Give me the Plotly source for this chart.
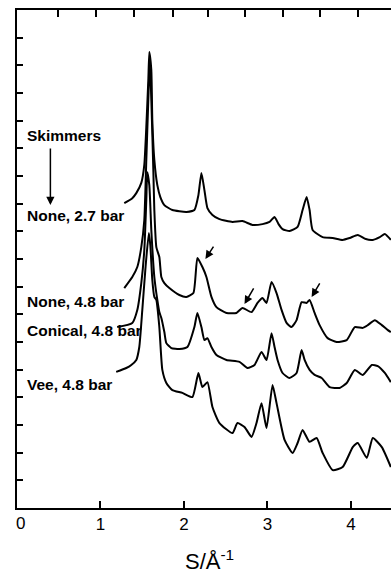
import plotly.graph_objects as go

# ---- data (s in 1/Angstrom, intensity in tick units, curves offset) ----
s_none27 = [1.285,1.381,1.429,1.489,1.525,1.549,1.573,1.585,1.609,1.621,1.645,1.681,1.717,1.765,1.861,2.029,2.125,2.173,2.209,2.245,2.281,2.341,2.425,2.581,2.701,2.821,2.941,3.025,3.085,3.133,3.181,3.265,3.361,3.421,3.469,3.505,3.541,3.661,3.781,3.901,3.986,4.082,4.178,4.262,4.346,4.406,4.478]
i_none27 = [11.02,11.20,11.38,11.75,12.40,13.77,15.47,16.48,15.83,14.02,12.58,11.67,11.24,10.95,10.77,10.70,10.77,11.31,12.11,11.49,10.84,10.59,10.44,10.34,10.37,10.23,10.26,10.34,10.52,10.26,10.08,10.01,10.16,10.77,11.24,10.77,10.05,9.79,9.76,9.69,9.76,9.87,9.72,9.69,9.79,9.90,9.69]

s_none48 = [1.285,1.381,1.441,1.489,1.525,1.549,1.573,1.591,1.609,1.633,1.645,1.669,1.705,1.729,1.765,1.825,1.945,2.029,2.113,2.161,2.221,2.269,2.329,2.389,2.509,2.629,2.701,2.809,2.881,2.941,2.989,3.049,3.109,3.169,3.229,3.289,3.349,3.409,3.469,3.505,3.565,3.625,3.721,3.829,3.950,4.046,4.142,4.202,4.286,4.370,4.442,4.478]
i_none48 = [7.95,8.35,8.71,9.43,10.41,12.58,14.75,16.12,14.75,12.22,10.77,9.43,9.07,8.35,8.13,7.95,7.70,7.63,7.77,9.04,8.71,8.35,7.63,7.26,7.05,7.05,7.23,7.08,7.41,7.59,7.41,8.17,7.77,7.16,6.69,6.54,6.79,7.44,7.41,7.52,7.05,6.61,6.14,6.00,6.07,6.54,6.51,6.61,6.79,6.61,6.43,6.36]

s_conical = [1.200,1.381,1.441,1.489,1.525,1.549,1.561,1.585,1.609,1.645,1.681,1.705,1.729,1.765,1.789,1.849,1.945,2.041,2.125,2.161,2.209,2.245,2.281,2.329,2.389,2.509,2.665,2.761,2.845,2.929,2.989,3.049,3.085,3.121,3.181,3.265,3.349,3.409,3.445,3.505,3.565,3.649,3.745,3.865,3.950,4.046,4.142,4.250,4.322,4.406,4.478]
i_conical = [6.54,6.69,7.16,8.13,9.32,11.13,12.14,11.67,10.05,8.35,7.52,7.08,6.87,6.36,5.96,5.78,5.75,5.82,6.54,7.05,6.54,6.07,6.14,5.82,5.53,5.35,5.28,5.06,5.17,5.64,5.35,6.32,5.82,5.35,4.88,4.70,4.88,5.71,5.35,4.99,4.81,4.70,4.37,4.34,4.52,4.99,4.81,5.17,5.13,4.88,4.55]

s_vee = [1.188,1.309,1.369,1.429,1.465,1.501,1.537,1.579,1.597,1.621,1.645,1.669,1.705,1.741,1.789,1.861,1.981,2.101,2.173,2.221,2.281,2.341,2.425,2.581,2.641,2.725,2.809,2.869,2.929,2.989,3.061,3.109,3.205,3.301,3.361,3.421,3.505,3.589,3.661,3.781,3.901,4.022,4.082,4.190,4.262,4.370,4.478]
i_vee = [4.92,5.06,5.17,5.35,5.82,7.16,8.60,9.94,9.50,8.24,7.63,7.52,6.54,4.99,4.52,4.26,4.16,4.01,4.88,4.37,4.55,3.65,3.07,2.71,3.07,2.93,2.57,3.07,3.79,2.89,4.45,3.79,2.46,1.99,2.35,2.82,2.39,2.53,1.99,1.37,1.48,2.20,2.35,1.81,2.53,2.20,1.48]

x_tick_vals = [1, 2, 3, 4]
x_tick_text = ["1", "2", "3", "4"]
top_tick_vals = [0.491, 0.946, 1.401, 1.868, 2.287, 2.731, 3.186, 3.629, 4.084]
y_tick_vals = list(range(0, 19))

labels = ["Skimmers", "None, 2.7 bar", "None, 4.8 bar", "Conical, 4.8 bar", "Vee, 4.8 bar"]
label_x = [0.09, 0.09, 0.09, 0.09, 0.09]
label_y = [13.48, 10.59, 7.48, 6.40, 4.45]

# small arrows: (head_s, head_i, tail_s, tail_i)
arrow_heads_s = [0.40, 2.257, 2.725, 3.529]
arrow_heads_i = [10.95, 9.00, 7.37, 7.63]
arrow_tails_s = [0.40, 2.365, 2.845, 3.637]
arrow_tails_i = [13.05, 9.50, 7.99, 8.17]

FONT = "Liberation Sans, Arial, sans-serif"

fig = go.Figure()
for s, i in [(s_none27, i_none27), (s_none48, i_none48), (s_conical, i_conical), (s_vee, i_vee)]:
    fig.add_trace(go.Scatter(x=s, y=i, mode="lines",
                             line=dict(color="black", width=2, shape="spline", smoothing=0.5),
                             showlegend=False, hoverinfo="skip"))
# invisible trace for top axis
fig.add_trace(go.Scatter(x=[0], y=[0], xaxis="x2", mode="markers",
                         marker=dict(opacity=0), showlegend=False, hoverinfo="skip"))

for t, x, y in zip(labels, label_x, label_y):
    fig.add_annotation(x=x, y=y, text="<b>" + t + "</b>", showarrow=False, xanchor="left",
                       yanchor="middle", font=dict(family=FONT, size=15.5, color="black"))

for hs, hi, ts, ti in zip(arrow_heads_s, arrow_heads_i, arrow_tails_s, arrow_tails_i):
    fig.add_annotation(x=hs, y=hi, ax=ts, ay=ti, xref="x", yref="y", axref="x", ayref="y",
                       text="", showarrow=True, arrowhead=2, arrowsize=1.1, arrowwidth=1.5,
                       arrowcolor="black")

# axis title and the "0" label as annotations
fig.add_annotation(x=2.30, y=0, xref="x", yref="paper", text="S/Å<sup>-1</sup>",
                   showarrow=False, yanchor="top", yshift=-36,
                   font=dict(family=FONT, size=22, color="black"))
fig.add_annotation(x=0.04, y=0, xref="x", yref="paper", text="0", showarrow=False,
                   yanchor="top", yshift=-4,
                   font=dict(family=FONT, size=17, color="black"))

fig.update_layout(
    width=391, height=575,
    margin=dict(l=17, r=0, t=10, b=67),
    paper_bgcolor="white", plot_bgcolor="white",
    xaxis=dict(range=[0, 4.48], showgrid=False, zeroline=False, showline=True,
               linecolor="black", linewidth=1.6, ticks="inside", ticklen=7, tickwidth=1.5,
               tickcolor="black", tickvals=x_tick_vals, ticktext=x_tick_text,
               tickfont=dict(family=FONT, size=17, color="black")),
    xaxis2=dict(range=[0, 4.48], overlaying="x", side="top", showgrid=False, zeroline=False,
                showline=True, linecolor="black", linewidth=1.6, ticks="inside", ticklen=7,
                tickwidth=1.5, tickcolor="black", tickvals=top_tick_vals, showticklabels=False),
    yaxis=dict(range=[0, 18], showgrid=False, zeroline=False, showline=True,
               linecolor="black", linewidth=1.6, ticks="inside", ticklen=6, tickwidth=1.5,
               tickcolor="black", tickvals=y_tick_vals, showticklabels=False),
)

fig.write_html("out.html", config={"displayModeBar": False},
               post_script="document.body.style.margin='0';")
